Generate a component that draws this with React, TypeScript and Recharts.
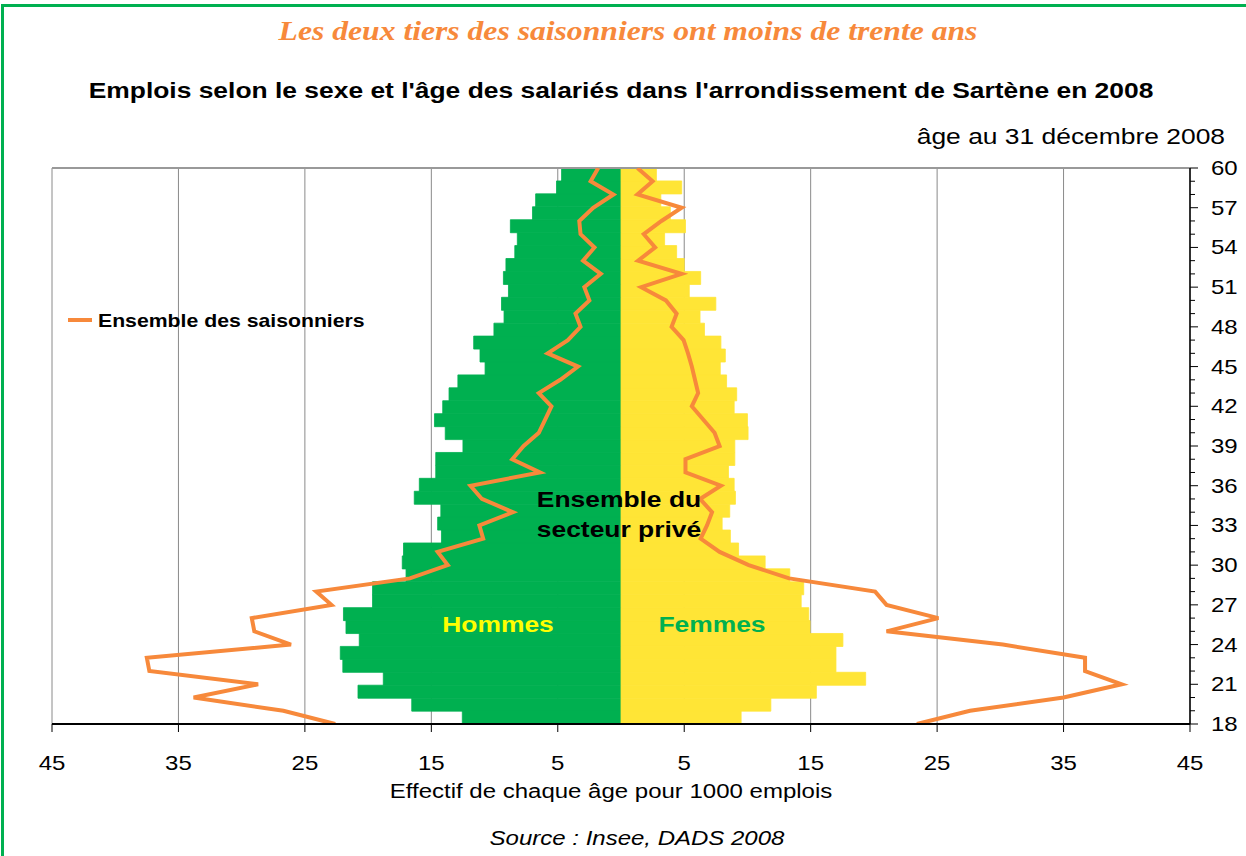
import React from 'react';
import { ComposedChart, Bar, Line, XAxis, YAxis, CartesianGrid, ReferenceLine } from 'recharts';

const ages = [18, 19, 20, 21, 22, 23, 24, 25, 26, 27, 28, 29, 30, 31, 32, 33, 34, 35, 36, 37, 38, 39, 40, 41, 42, 43, 44, 45, 46, 47, 48, 49, 50, 51, 52, 53, 54, 55, 56, 57, 58, 59, 60];

// Ensemble du secteur privé (hommes à gauche, en négatif)
const hommes = [-12.55, -16.55, -20.8, -18.8, -22.0, -22.2, -20.7, -21.75, -21.95, -19.65, -19.65, -17.0, -17.3, -17.2, -14.2, -14.5, -14.25, -16.35, -15.95, -14.65, -14.65, -12.5, -13.9, -14.75, -14.1, -13.6, -12.9, -10.75, -11.15, -11.65, -10.05, -9.25, -9.45, -8.9, -9.3, -9.1, -8.4, -8.2, -8.75, -7.0, -6.75, -5.1, -4.7];
const femmes = [9.5, 11.85, 15.45, 19.35, 17.0, 17.0, 17.55, 14.95, 14.85, 14.25, 14.45, 13.35, 11.4, 9.3, 8.65, 8.0, 8.6, 9.05, 8.95, 8.5, 9.0, 9.0, 10.05, 10.0, 8.95, 9.15, 8.35, 7.85, 8.25, 7.9, 6.6, 6.25, 7.5, 5.4, 6.3, 5.0, 4.4, 3.45, 5.1, 3.9, 3.15, 4.8, 2.8];

// Ensemble des saisonniers
const saisonniersHommes = [-22.6, -26.7, -33.8, -28.7, -37.3, -37.5, -26.1, -29.0, -29.2, -22.9, -24.1, -16.7, -13.7, -14.5, -10.9, -11.2, -8.55, -11.0, -11.9, -6.4, -8.6, -7.7, -6.5, -6.0, -5.5, -6.5, -4.8, -3.4, -5.8, -4.2, -3.2, -3.6, -2.5, -2.9, -1.6, -3.0, -2.1, -3.2, -3.3, -2.2, -0.6, -2.4, -1.8];
const saisonniersFemmes = [23.4, 27.6, 35.0, 39.6, 36.7, 36.7, 30.2, 21.0, 25.1, 21.0, 20.1, 13.3, 10.1, 7.8, 6.3, 6.8, 7.2, 6.25, 7.9, 5.1, 5.1, 7.8, 7.4, 6.5, 5.6, 6.1, 5.85, 5.6, 5.3, 4.95, 4.0, 4.4, 3.55, 1.6, 4.8, 1.35, 2.7, 1.8, 3.2, 4.8, 1.3, 2.5, 1.3];

const xTicks = [-45, -35, -25, -15, -5, 5, 15, 25, 35, 45];
const labeledAges = [18, 21, 24, 27, 30, 33, 36, 39, 42, 45, 48, 51, 54, 57, 60];

const data = ages.map((age, i) => ({
  age,
  hommes: hommes[i],
  femmes: femmes[i],
  saisH: saisonniersHommes[i],
  saisF: saisonniersFemmes[i],
}));

const GREEN = '#00B050';
const YELLOW = '#FFE536';
const ORANGE = '#F7893B';
const FONT = '"Liberation Sans", Arial, sans-serif';
const SX = 1.2;

const XTick = (props: any) => {
  const { x, y, payload } = props;
  return (
    <text
      transform={`translate(${x} ${y + 38}) scale(${SX} 1)`}
      textAnchor="middle"
      fontSize={20}
      fontFamily={FONT}
      fill="#000"
    >
      {Math.abs(payload.value)}
    </text>
  );
};

const YTick = (props: any) => {
  const { x, y, payload } = props;
  const v = payload.value;
  const major = labeledAges.includes(v);
  return (
    <g>
      <line x1={x} x2={x + (major ? 8 : 5)} y1={y} y2={y} stroke="#000" strokeWidth={1} />
      {major && (
        <text
          transform={`translate(${x + 21} ${y + 7}) scale(${SX} 1)`}
          textAnchor="start"
          fontSize={20}
          fontFamily={FONT}
          fill="#000"
        >
          {v}
        </text>
      )}
    </g>
  );
};

const centered = (cx: number, top: number, fs: number, extra: any = {}) => ({
  position: 'absolute' as const,
  left: cx,
  top,
  fontSize: fs,
  lineHeight: `${fs}px`,
  whiteSpace: 'nowrap' as const,
  transform: `translateX(-50%) scaleX(${SX})`,
  transformOrigin: 'center',
  fontFamily: FONT,
  ...extra,
});

export default function App() {
  return (
    <div style={{ position: 'absolute', left: 0, top: 0, width: 1246, height: 856, overflow: 'hidden', background: '#fff' }}>
      <div style={{ position: 'absolute', left: 1, top: 4, width: 1260, height: 900, borderLeft: `3px solid ${GREEN}`, borderTop: `3px solid ${GREEN}` }} />
      <ComposedChart
        width={1246}
        height={856}
        data={data}
        layout="vertical"
        stackOffset="sign"
        barCategoryGap={0}
        barGap={0}
        margin={{ top: 168, right: 0, bottom: 82, left: 52 }}
        style={{ position: 'absolute', left: 0, top: 0 }}
      >
        <CartesianGrid horizontal={false} vertical={true} stroke="#8a8a8a" strokeWidth={1} />
        <XAxis
          type="number"
          domain={[-45, 45]}
          ticks={xTicks}
          interval={0}
          height={50}
          tickSize={8}
          tickMargin={0}
          tick={<XTick />}
          axisLine={{ stroke: '#000', strokeWidth: 2 }}
          tickLine={{ stroke: '#000' }}
          allowDataOverflow
        />
        <YAxis yAxisId="cat" type="category" dataKey="age" hide reversed />
        <YAxis
          type="number"
          dataKey="age"
          domain={[18, 60]}
          ticks={ages}
          interval={0}
          reversed
          orientation="right"
          width={56}
          tickSize={0}
          tickMargin={0}
          tick={<YTick />}
          tickLine={false}
          axisLine={{ stroke: '#000', strokeWidth: 1.5 }}
          allowDataOverflow
        />
        <ReferenceLine y={60} stroke="#999" strokeWidth={2} />
        <Bar yAxisId="cat" dataKey="hommes" stackId="pyr" fill={GREEN} stroke={GREEN} strokeWidth={0.8} isAnimationActive={false} />
        <Bar yAxisId="cat" dataKey="femmes" stackId="pyr" fill={YELLOW} stroke={YELLOW} strokeWidth={0.8} isAnimationActive={false} />
        <Line dataKey="saisH" stroke={ORANGE} strokeWidth={4} dot={false} isAnimationActive={false} type="linear" />
        <Line dataKey="saisF" stroke={ORANGE} strokeWidth={4} dot={false} isAnimationActive={false} type="linear" />
      </ComposedChart>

      <div style={{ ...centered(628, 17, 28), fontFamily: '"Liberation Serif", "Times New Roman", serif', fontStyle: 'italic', fontWeight: 'bold', color: ORANGE, transform: 'translateX(-50%) scaleX(1.13)' }}>
        Les deux tiers des saisonniers ont moins de trente ans
      </div>
      <div style={{ ...centered(621, 80, 22), fontWeight: 'bold', color: '#000' }}>
        Emplois selon le sexe et l'âge des salariés dans l'arrondissement de Sartène en 2008
      </div>
      <div style={{ position: 'absolute', left: 0, width: 1225, top: 126, fontSize: 22, lineHeight: '22px', textAlign: 'right', whiteSpace: 'nowrap', fontFamily: FONT, transform: `scaleX(${SX})`, transformOrigin: 'right center' }}>
        âge au 31 décembre 2008
      </div>

      <div style={{ position: 'absolute', left: 68, top: 318, width: 24, height: 4, background: ORANGE }} />
      <div style={{ position: 'absolute', left: 98, top: 313, fontSize: 17.7, lineHeight: '17.7px', fontWeight: 'bold', whiteSpace: 'nowrap', fontFamily: FONT, transform: `scaleX(${SX})`, transformOrigin: 'left center' }}>
        Ensemble des saisonniers
      </div>

      <div style={{ ...centered(619, 485, 22), lineHeight: '30px', fontWeight: 'bold', textAlign: 'center', color: '#000' }}>
        Ensemble du<br />secteur privé
      </div>
      <div style={{ ...centered(498, 614, 22), fontWeight: 'bold', color: '#FFFF00' }}>Hommes</div>
      <div style={{ ...centered(712, 614, 22), fontWeight: 'bold', color: GREEN }}>Femmes</div>

      <div style={{ ...centered(611, 781, 20), color: '#000' }}>
        Effectif de chaque âge pour 1000 emplois
      </div>
      <div style={{ ...centered(637, 828, 20), fontStyle: 'italic', color: '#000' }}>
        Source : Insee, DADS 2008
      </div>
    </div>
  );
}
